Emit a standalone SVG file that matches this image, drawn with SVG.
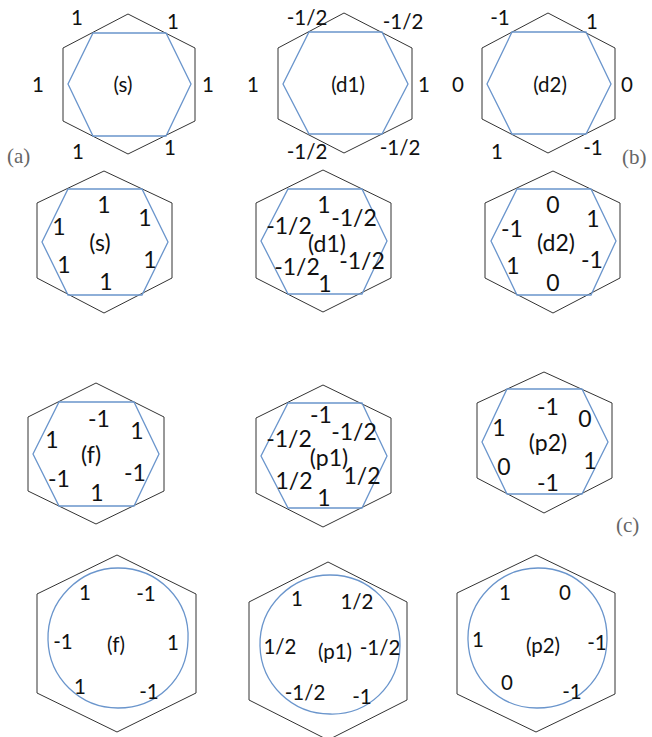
<svg xmlns="http://www.w3.org/2000/svg" width="652" height="737" viewBox="0 0 652 737">
<style>
.o{fill:none;stroke:#333;stroke-width:1}
.i{fill:none;stroke:#6a95cc;stroke-width:1.3}
text{font-family:Lato,"Open Sans","Liberation Sans",sans-serif;fill:#111;text-anchor:middle}
.s17{font-size:20.5px}
.s20{font-size:23px}
.s4{font-size:20.5px}
.cap{font-family:"Liberation Serif","DejaVu Serif",serif;font-size:21px;fill:#666;text-anchor:start}
</style>
<rect width="652" height="737" fill="#fff"/>
<g id="panel-a-s" class="s17">
<polygon class="o" points="128,14 195,48 195,121 128,154 63,121 63,48"/>
<polygon class="i" points="93,33 166,33 191,84 166,136 93,136 68,84"/>
<text x="77" y="25">1</text><text x="173" y="29">1</text>
<text x="38" y="92">1</text><text x="208" y="92">1</text>
<text x="78" y="159">1</text><text x="170" y="155">1</text>
<text x="123" y="92">(s)</text>
</g>
<g id="panel-a-d1" class="s17">
<polygon class="o" points="344,13 412,48 412,119 344,153 278,119 278,48"/>
<polygon class="i" points="309,32 382,32 408,84 382,134 309,134 283,84"/>
<text x="307" y="25">-1/2</text><text x="403" y="29">-1/2</text>
<text x="253" y="92">1</text><text x="424" y="92">1</text>
<text x="307" y="159">-1/2</text><text x="400" y="155">-1/2</text>
<text x="348" y="92">(d1)</text>
</g>
<g id="panel-a-d2" class="s17">
<polygon class="o" points="548,13 615,48 615,119 548,153 482,119 482,48"/>
<polygon class="i" points="512,32 586,32 611,84 586,134 512,134 487,84"/>
<text x="500" y="25">-1</text><text x="592" y="29">1</text>
<text x="458" y="92">0</text><text x="627" y="92">0</text>
<text x="497" y="159">1</text><text x="593" y="155">-1</text>
<text x="550" y="92">(d2)</text>
</g>
<text class="cap" x="7" y="163">(a)</text>
<text class="cap" x="622" y="164">(b)</text>
<g id="panel-b-s" class="s20">
<polygon class="o" points="104,171 172,203 172,278 104,313 37,278 37,203"/>
<polygon class="i" points="68,189 142,189 168,242 142,295 68,295 42,242"/>
<text x="104" y="213">1</text><text x="145" y="226">1</text>
<text x="59" y="235">1</text><text x="100" y="251">(s)</text>
<text x="64" y="273">1</text><text x="150" y="268">1</text>
<text x="106" y="290">1</text>
</g>
<g id="panel-b-d1" class="s20">
<polygon class="o" points="323,170 391,203 391,278 323,312 256,278 256,203"/>
<polygon class="i" points="288,189 362,189 387,241 362,294 288,294 261,241"/>
<text x="324" y="213">1</text><text x="354" y="226">-1/2</text>
<text x="289" y="234">-1/2</text><text x="327" y="252">(d1)</text>
<text x="297" y="275">-1/2</text><text x="362" y="269">-1/2</text>
<text x="325" y="292">1</text>
</g>
<g id="panel-b-d2" class="s20">
<polygon class="o" points="553,171 620,203 620,278 553,313 485,278 485,203"/>
<polygon class="i" points="517,189 591,189 616,241 591,295 517,295 491,241"/>
<text x="553" y="213">0</text><text x="593" y="227">1</text>
<text x="512" y="237">-1</text><text x="556" y="251">(d2)</text>
<text x="513" y="274">1</text><text x="592" y="268">-1</text>
<text x="553" y="291">0</text>
</g>
<g id="panel-c-f" class="s20">
<polygon class="o" points="96,383 164,417 164,491 96,524 28,491 28,417"/>
<polygon class="i" points="59,402 134,402 159,454 134,506 59,506 33,454"/>
<text x="99" y="427">-1</text><text x="137" y="439">1</text>
<text x="52" y="448">1</text><text x="91" y="463">(f)</text>
<text x="59" y="487">-1</text><text x="135" y="481">-1</text>
<text x="97" y="501">1</text>
</g>
<g id="panel-c-p1" class="s20">
<polygon class="o" points="323,385 391,418 391,493 323,527 256,493 256,418"/>
<polygon class="i" points="288,403 362,403 387,456 362,508 288,508 261,456"/>
<text x="321" y="423">-1</text><text x="354" y="440">-1/2</text>
<text x="289" y="447">-1/2</text><text x="329" y="466">(p1)</text>
<text x="294" y="489">1/2</text><text x="362" y="484">1/2</text>
<text x="324" y="506">1</text>
</g>
<g id="panel-c-p2" class="s20">
<polygon class="o" points="544,372 612,403 612,478 544,513 477,478 477,403"/>
<polygon class="i" points="507,389 582,389 608,442 582,494 507,494 482,442"/>
<text x="548" y="415">-1</text><text x="585" y="427">0</text>
<text x="499" y="436">1</text><text x="548" y="451">(p2)</text>
<text x="504" y="475">0</text><text x="590" y="469">1</text>
<text x="548" y="491">-1</text>
</g>
<text class="cap" x="616" y="532">(c)</text>
<g id="panel-d-f" class="s4">
<polygon class="o" points="117,555 196,594 196,693 117,732 37,693 37,594"/>
<path class="i" d="M48,640 C47,600 80,568 118,568 C158,568 190,600 188,640 C187,680 156,708 118,708 C80,708 49,678 48,640 Z"/>
<text x="85" y="600">1</text><text x="146" y="601">-1</text>
<text x="63" y="649">-1</text><text x="116" y="652">(f)</text>
<text x="173" y="650">1</text>
<text x="80" y="694">1</text><text x="149" y="699">-1</text>
</g>
<g id="panel-d-p1" class="s4">
<polygon class="o" points="328,562 407,602 407,700 328,740 249,700 249,602"/>
<path class="i" d="M260,646 C259,606 292,575 330,575 C370,575 401,607 400,646 C399,686 368,715 330,714 C292,714 261,684 260,646 Z"/>
<text x="297" y="606">1</text><text x="357" y="609">1/2</text>
<text x="280" y="654">1/2</text><text x="335" y="659">(p1)</text>
<text x="380" y="655">-1/2</text>
<text x="305" y="700">-1/2</text><text x="362" y="704">-1</text>
</g>
<g id="panel-d-p2" class="s4">
<polygon class="o" points="536,555 615,593 615,694 536,732 457,694 457,593"/>
<path class="i" d="M468,640 C467,600 500,568 538,568 C578,568 608,600 607,640 C606,680 576,708 537,708 C499,708 469,678 468,640 Z"/>
<text x="505" y="600">1</text><text x="565" y="600">0</text>
<text x="478" y="647">1</text><text x="543" y="653">(p2)</text>
<text x="597" y="650">-1</text>
<text x="507" y="690">0</text><text x="572" y="699">-1</text>
</g>
<g id="connectors"></g>
</svg>
